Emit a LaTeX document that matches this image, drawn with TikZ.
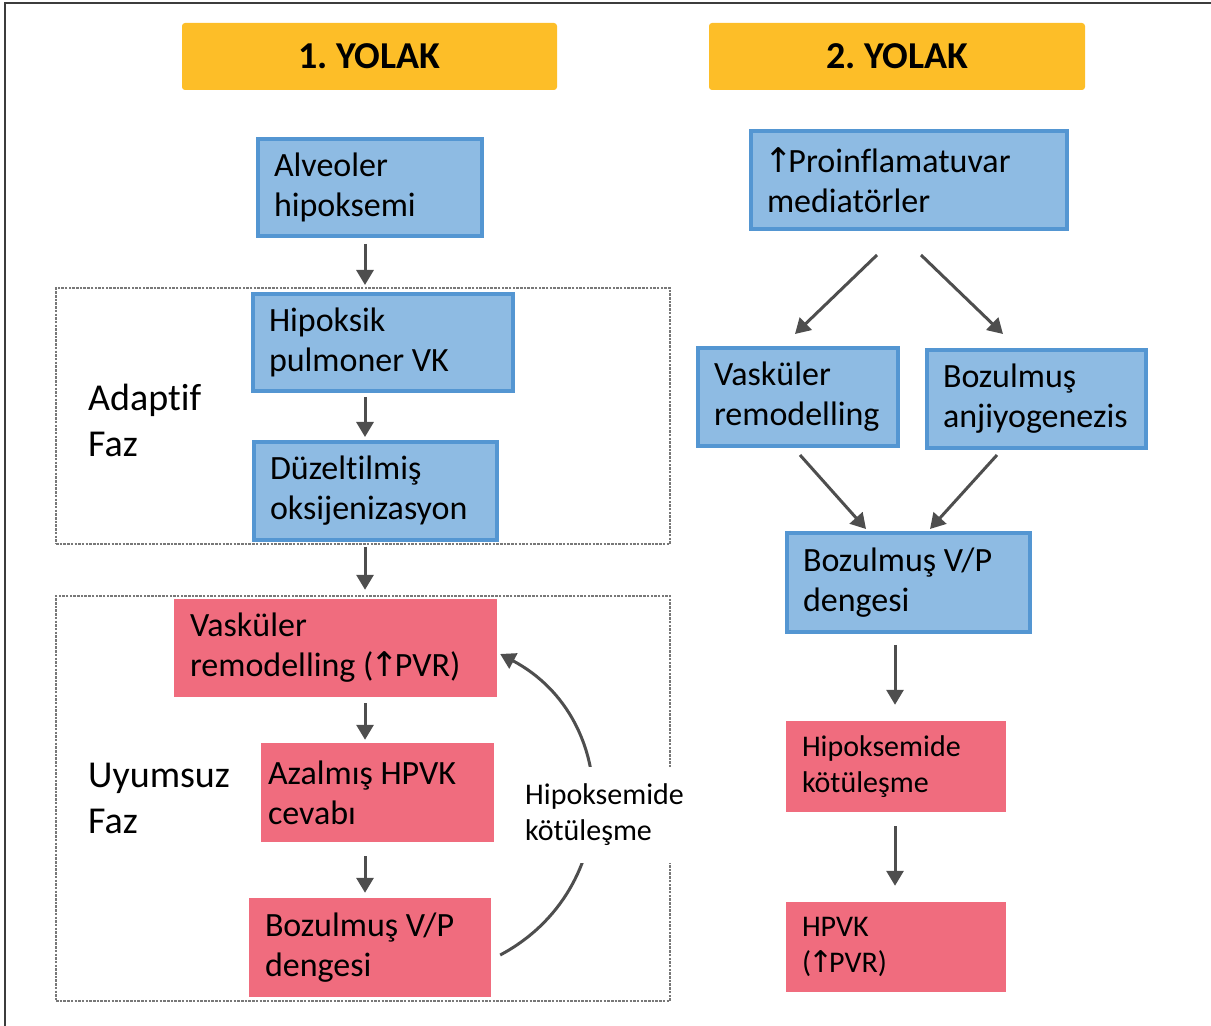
\documentclass[tikz,border=0pt]{standalone}
\usepackage{fontspec}
\setmainfont{Carlito}[Ligatures=NoCommon]
\newfontfamily\arrowfont{DejaVu Sans}
\usetikzlibrary{arrows.meta}
\frenchspacing

\definecolor{hdr}{RGB}{253,190,40}
\definecolor{bfill}{RGB}{142,187,227}
\definecolor{bline}{RGB}{84,150,210}
\definecolor{rfill}{RGB}{240,108,126}
\definecolor{arrowgray}{RGB}{78,78,78}
\definecolor{framegray}{RGB}{60,60,60}
\definecolor{dashgray}{RGB}{120,120,120}

\newcommand\boxfont{\fontsize{34}{40}\selectfont}
\newcommand\smallboxfont{\fontsize{30}{36}\selectfont}
\newcommand\phasefont{\fontsize{38}{46}\selectfont}
\newcommand\hdrfont{\fontsize{38}{46}\selectfont\bfseries}
\newcommand\incr{{\kern-3pt\arrowfont ↑\kern-4pt}}

\begin{document}
\begin{tikzpicture}[x=1pt,y=1pt,
  box/.style={inner xsep=16pt,inner ysep=0pt,align=flush left,font=\boxfont,text=black},
  bluebox/.style={box,fill=bfill,draw=bline,line width=4pt},
  redbox/.style={box,fill=rfill},
  hdrbox/.style={fill=hdr,rounded corners=3pt,font=\hdrfont,inner sep=0pt},
  phase/.style={font=\phasefont,align=flush left,inner sep=0pt,anchor=west},
  phasebox/.style={draw=dashgray,line width=1.8pt,dash pattern=on 2.5pt off 1.2pt,inner sep=0pt},
  arr/.style={draw=arrowgray,line width=3pt,-{Triangle[width=17pt,length=15pt]}},
]
\useasboundingbox (0,0) rectangle (1211,1026);

% page frame (top and left edges)
\draw[framegray,line width=2pt] (1211,1023) -- (5,1023) -- (5,0);

% headers
\node[hdrbox,minimum width=375pt,minimum height=67pt] (h1) at (369.5,969.5) {1. YOLAK};
\node[hdrbox,minimum width=376pt,minimum height=67pt] (h2) at (897,969.5) {2. YOLAK};

% phase frames
\node[phasebox,minimum width=614pt,minimum height=256pt] (adaptframe) at (363,610) {};
\node[phasebox,minimum width=614pt,minimum height=405pt] (maladframe) at (363,227.5) {};

\node[phase] (adaptif) at (88,606) {Adaptif\\Faz};
\node[phase] (uyumsuz) at (88,228) {Uyumsuz\\Faz};

% pathway 1
\node[bluebox,minimum width=224pt,minimum height=97pt,text width=192pt] (a1) at (370,838.5) {Alveoler\\hipoksemi};
\node[bluebox,minimum width=260pt,minimum height=97pt,text width=228pt] (a2) at (383,683.5) {Hipoksik\\pulmoner VK};
\node[bluebox,minimum width=243pt,minimum height=98pt,text width=211pt] (a3) at (375.5,535) {Düzeltilmiş\\oksijenizasyon};
\node[redbox,minimum width=323pt,minimum height=98pt,text width=291pt] (r1) at (335.5,378) {Vasküler\\remodelling (\incr PVR)};
\node[redbox,inner xsep=7pt,minimum width=233pt,minimum height=99pt,text width=219pt] (r2) at (377.5,233.5) {Azalmış HPVK\\cevabı};
\node[redbox,minimum width=242pt,minimum height=99pt,text width=210pt] (r3) at (370,78.5) {Bozulmuş V/P\\dengesi};

\coordinate (lx) at (365,0);
\draw[arr,shorten <=6pt,shorten >=7pt] (a1.south -| lx) -- (a2.north -| lx);
\draw[arr,shorten <=4pt,shorten >=3pt] (a2.south -| lx) -- (a3.north -| lx);
\draw[arr,shorten <=5pt,shorten >=9pt] (a3.south -| lx) -- (r1.north -| lx);
\draw[arr,shorten <=6pt,shorten >=3pt] (r1.south -| lx) -- (r2.north -| lx);
\draw[arr,shorten <=14pt,shorten >=5pt] (r2.south -| lx) -- (r3.north -| lx);

% feedback loop
\draw[arr] ([shift={(9,-7.5)}]r3.east) to[bend right=62,looseness=1.18] ([shift={(3,-6)}]r1.east);
\node[font=\smallboxfont,align=flush left,fill=white,inner xsep=3pt,inner ysep=17pt,anchor=west] (loop) at (522,211) {Hipoksemide\\kötüleşme};

% pathway 2
\node[bluebox,minimum width=316pt,minimum height=98pt,text width=284pt] (b1) at (909,846) {\incr Proinflamatuvar\\mediatörler};
\node[bluebox,minimum width=200pt,minimum height=98pt,text width=168pt] (b2) at (798,629) {Vasküler\\remodelling};
\node[bluebox,minimum width=219pt,minimum height=98pt,text width=187pt] (b3) at (1036.5,627) {Bozulmuş\\anjiyogenezis};
\node[bluebox,minimum width=243pt,minimum height=99pt,text width=211pt] (b4) at (908.5,443.5) {Bozulmuş V/P\\dengesi};
\node[redbox,font=\smallboxfont,minimum width=220pt,minimum height=91pt,text width=188pt] (r4) at (896,259.5) {Hipoksemide\\kötüleşme};
\node[redbox,font=\smallboxfont,minimum width=220pt,minimum height=90pt,text width=188pt] (r5) at (896,79) {HPVK\\(\incr PVR)};

\draw[arr] ([shift={(-32,-24)}]b1.south) -- ([shift={(-3,12)}]b2.north);
\draw[arr] ([shift={(12,-24)}]b1.south) -- ([shift={(-33.5,14)}]b3.north);
\draw[arr] ([shift={(2,-7)}]b2.south) -- ([shift={(-42.5,2)}]b4.north);
\draw[arr] ([shift={(-39.5,-5)}]b3.south) -- ([shift={(21.5,2)}]b4.north);

\coordinate (rx) at (895,0);
\draw[arr,shorten <=11pt,shorten >=16pt] (b4.south -| rx) -- (r4.north -| rx);
\draw[arr,shorten <=14pt,shorten >=16pt] (r4.south -| rx) -- (r5.north -| rx);
\end{tikzpicture}
\end{document}
